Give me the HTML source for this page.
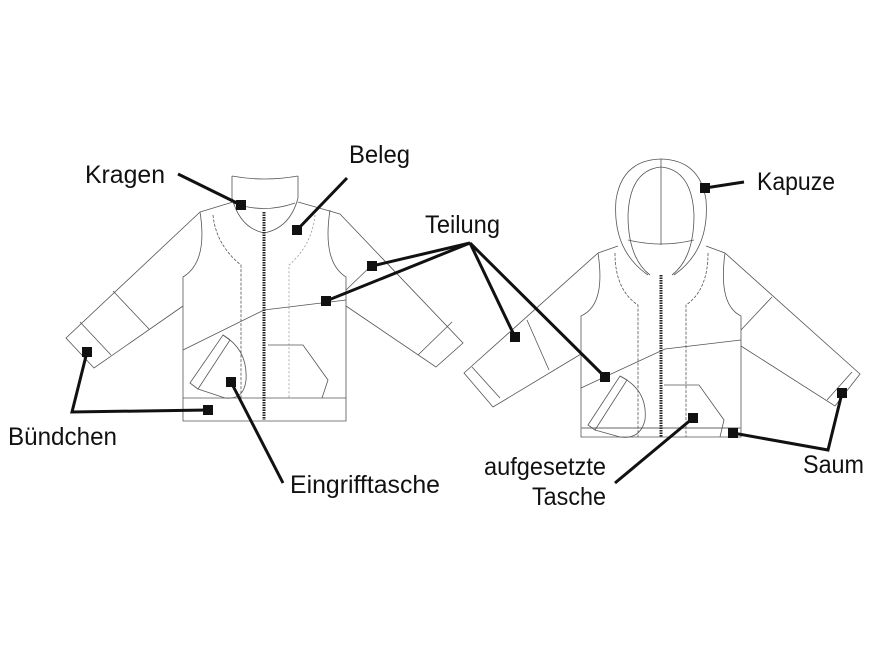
<!DOCTYPE html>
<html><head><meta charset="utf-8"><style>
html,body{margin:0;padding:0;background:#fff;width:880px;height:660px;overflow:hidden}
text{font-family:"Liberation Sans Narrow","Liberation Sans",sans-serif;font-size:25px;fill:#111}
</style></head><body>
<svg width="880" height="660" viewBox="0 0 880 660" xmlns="http://www.w3.org/2000/svg">
<g fill="none" stroke="#555" stroke-width="0.8">
<!-- LEFT JACKET -->
<path d="M232,176 L232,198 Q240,228 264,233 Q290,228 298,198 L298,176"/>
<path d="M232,176 Q264,182 298,176"/>
<path d="M233,203 Q264,214 295,203"/>
<path d="M200,212 L233,202 M298,202 L340,214"/>
<path d="M200,212 Q208,262 183,277 L183,421 L346,421 L346,277 Q322,262 330,210"/>
<path d="M183,398 L346,398"/>
<path d="M200,212 L66,338 L94,368 L183,306"/>
<path d="M80,322 L111,355 M113,291 L149,329"/>
<path d="M340,214 L463,343 L436,367 L346,306"/>
<path d="M452,322 L418,355 M346,290 L372,265"/>
<path d="M213,215 Q216,245 241,265 L241,398" stroke-dasharray="3,1.5"/>
<path d="M315,215 Q312,245 289,265 L289,398" stroke-dasharray="2,2" stroke="#999"/>
<path d="M183,350 L264,310 L346,300"/>
<path d="M190,383 L223,335 L230,340 L198,389 Z"/>
<path d="M223,335 Q248,350 246,380 Q244,400 225,398 L198,389"/>
<path d="M268,345 L303,345 L328,380 L322,398"/>
<!-- RIGHT JACKET -->
<path d="M648,275 Q612,250 616,200 Q622,160 661,159 Q700,160 706,200 Q710,250 674,275"/>
<path d="M650,275 Q628,258 628,215 Q630,170 661,167 Q692,170 694,215 Q694,258 672,275"/>
<path d="M628,240 Q661,248 694,240"/>
<path d="M661,159 L661,245"/>
<path d="M598,253 L618,246 M706,246 L725,253"/>
<path d="M598,253 Q606,305 581,316 L581,437 L741,437 L741,316 Q718,305 725,253"/>
<path d="M581,428 L741,428" stroke="#999" stroke-width="1.5"/>
<path d="M598,253 L464,373 L493,407 L581,354"/>
<path d="M472,367 L500,398 M527,320 L549,370"/>
<path d="M725,253 L860,374 L835,406 L741,346"/>
<path d="M852,372 L827,400 M772,297 L741,330"/>
<path d="M615,253 Q615,290 638,305 L638,437" stroke-dasharray="3,1.5"/>
<path d="M708,253 Q708,290 686,305 L686,437" stroke-dasharray="3,1.5"/>
<path d="M581,388 L665,349 L741,340"/>
<path d="M588,425 L620,376 L627,380 L595,430 Z"/>
<path d="M620,376 Q648,390 645,420 Q640,440 620,437 L595,430"/>
<path d="M664,385 L699,385 L724,420 L720,437"/>
</g>
<!-- zippers -->
<line x1="264" y1="212" x2="264" y2="420" stroke="#222" stroke-width="3" stroke-dasharray="1.5,1"/>
<line x1="661" y1="275" x2="661" y2="437" stroke="#222" stroke-width="3" stroke-dasharray="1.5,1"/>
<!-- leaders -->
<g stroke="#111" stroke-width="3" fill="none">
<path d="M178,174 L241,205"/>
<path d="M347,178 L297,230"/>
<path d="M372,266 L470,243 L326,301 M470,243 L515,337 M470,243 L605,377"/>
<path d="M744,182 L705,188"/>
<path d="M87,352 L72,412 L208,410"/>
<path d="M231,382 L283,483"/>
<path d="M615,483 L693,418"/>
<path d="M733,433 L828,450 L842,393"/>
</g>
<g fill="#111">
<rect x="236" y="200" width="10" height="10"/>
<rect x="292" y="225" width="10" height="10"/>
<rect x="367" y="261" width="10" height="10"/>
<rect x="321" y="296" width="10" height="10"/>
<rect x="510" y="332" width="10" height="10"/>
<rect x="600" y="372" width="10" height="10"/>
<rect x="700" y="183" width="10" height="10"/>
<rect x="82" y="347" width="10" height="10"/>
<rect x="203" y="405" width="10" height="10"/>
<rect x="226" y="377" width="10" height="10"/>
<rect x="688" y="413" width="10" height="10"/>
<rect x="728" y="428" width="10" height="10"/>
<rect x="837" y="388" width="10" height="10"/>
</g>
<text x="85" y="183" textLength="80" lengthAdjust="spacingAndGlyphs">Kragen</text>
<text x="349" y="163" textLength="61" lengthAdjust="spacingAndGlyphs">Beleg</text>
<text x="425" y="233" textLength="75" lengthAdjust="spacingAndGlyphs">Teilung</text>
<text x="757" y="190" textLength="78" lengthAdjust="spacingAndGlyphs">Kapuze</text>
<text x="8" y="445" textLength="109" lengthAdjust="spacingAndGlyphs">Bündchen</text>
<text x="290" y="493" textLength="150" lengthAdjust="spacingAndGlyphs">Eingrifftasche</text>
<text x="484" y="475" textLength="122" lengthAdjust="spacingAndGlyphs">aufgesetzte</text>
<text x="532" y="505" textLength="74" lengthAdjust="spacingAndGlyphs">Tasche</text>
<text x="803" y="473" textLength="61" lengthAdjust="spacingAndGlyphs">Saum</text>
</svg>
</body></html>
